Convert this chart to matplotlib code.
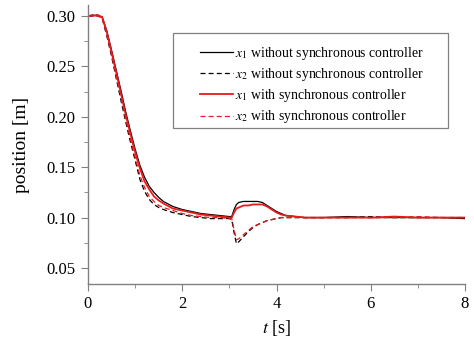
"""Position response of the two axes, with and without the synchronous controller."""

import matplotlib
matplotlib.use("Agg")
import matplotlib.pyplot as plt
from matplotlib.patches import Rectangle
from matplotlib.ticker import MultipleLocator

plt.rcParams["font.family"] = ["Liberation Serif", "DejaVu Serif"]
plt.rcParams["mathtext.fontset"] = "stix"

# ─── data ───────────────────────────────────────────────────────────
t = [0, 0.1, 0.2, 0.3, 0.4, 0.5, 0.6, 0.7, 0.8, 0.9, 1.0, 1.1, 1.2, 1.3,
     1.4, 1.5, 1.6, 1.8, 2.0, 2.2, 2.4, 2.6, 2.8, 3.0, 3.05, 3.1, 3.15,
     3.2, 3.3, 3.4, 3.5, 3.6, 3.7, 3.8, 3.9, 4.0, 4.1, 4.2, 4.4, 4.6,
     5.0, 5.5, 6.0, 6.5, 7.0, 7.5, 8.0]

x1_without = [0.300, 0.301, 0.300, 0.299, 0.285, 0.266, 0.246, 0.226, 0.205,
              0.186, 0.168, 0.152, 0.140, 0.131, 0.125, 0.120, 0.116, 0.111,
              0.108, 0.106, 0.104, 0.103, 0.102, 0.101, 0.101, 0.108, 0.113,
              0.115, 0.116, 0.116, 0.116, 0.116, 0.115, 0.112, 0.109, 0.106,
              0.104, 0.102, 0.101, 0.100, 0.100, 0.101, 0.100, 0.100, 0.100,
              0.100, 0.099]

x2_without = [0.300, 0.300, 0.301, 0.298, 0.280, 0.260, 0.238, 0.216, 0.195,
              0.175, 0.157, 0.138, 0.126, 0.118, 0.113, 0.110, 0.108, 0.105,
              0.103, 0.101, 0.100, 0.099, 0.099, 0.099, 0.098, 0.085, 0.074,
              0.076, 0.081, 0.086, 0.090, 0.093, 0.095, 0.097, 0.098, 0.099,
              0.100, 0.100, 0.100, 0.100, 0.100, 0.100, 0.101, 0.100, 0.100,
              0.100, 0.100]

x1_with = [0.300, 0.300, 0.301, 0.299, 0.284, 0.264, 0.244, 0.223, 0.202,
           0.183, 0.165, 0.149, 0.136, 0.128, 0.121, 0.117, 0.114, 0.109,
           0.107, 0.105, 0.103, 0.102, 0.101, 0.100, 0.100, 0.105, 0.109,
           0.110, 0.112, 0.112, 0.113, 0.113, 0.113, 0.111, 0.108, 0.105,
           0.103, 0.102, 0.101, 0.100, 0.100, 0.100, 0.100, 0.101, 0.100,
           0.100, 0.100]

x2_with = [0.300, 0.301, 0.300, 0.298, 0.281, 0.262, 0.240, 0.219, 0.198,
           0.178, 0.160, 0.142, 0.130, 0.121, 0.116, 0.112, 0.110, 0.107,
           0.104, 0.102, 0.101, 0.100, 0.100, 0.099, 0.099, 0.088, 0.078,
           0.079, 0.083, 0.087, 0.091, 0.093, 0.095, 0.097, 0.098, 0.099,
           0.100, 0.100, 0.100, 0.100, 0.100, 0.100, 0.100, 0.100, 0.101,
           0.100, 0.100]

labels = [
    r"$x_1$ without synchronous controller",
    r"$x_2$ without synchronous controller",
    r"$x_1$ with synchronous controller",
    r"$x_2$ with synchronous controller",
]

W, H = 474, 350
fig = plt.figure(figsize=(W / 100, H / 100), dpi=100)
ax = fig.add_axes([88 / W, 1 - 284 / H, 377 / W, 279 / H])

ax.plot(t, x1_without, color="black", lw=0.9, ls="-", label=labels[0])
ax.plot(t, x2_without, color="black", lw=0.9, ls=(0, (4, 2.5)), label=labels[1])
ax.plot(t, x1_with, color="#e8191c", lw=1.3, ls="-", label=labels[2])
ax.plot(t, x2_with, color="#e8191c", lw=0.9, ls=(0, (4, 2.5)), label=labels[3])

ax.set_xlim(0, 8)
ax.set_ylim(0.0341, 0.3109)
ax.xaxis.set_major_locator(MultipleLocator(2))
ax.xaxis.set_minor_locator(MultipleLocator(1))
ax.yaxis.set_major_locator(MultipleLocator(0.05))
ax.yaxis.set_minor_locator(MultipleLocator(0.025))
ax.yaxis.set_major_formatter(lambda v, _: f"{v:.2f}")

for side in ("top", "right"):
    ax.spines[side].set_visible(False)
for side in ("left", "bottom"):
    ax.spines[side].set_color("#808080")
    ax.spines[side].set_linewidth(1.0)
ax.tick_params(which="both", direction="out", color="#808080", labelsize=12)
ax.tick_params(which="major", length=5, pad=4)
ax.tick_params(which="minor", length=3)

ax.set_ylabel("position [m]", fontsize=14)
ax.yaxis.set_label_coords(-0.155, 0.5)
ax.set_xlabel(r"$t$ [s]", fontsize=13)

# legend frame drawn as a plain box, entries placed inside it
fig.add_artist(Rectangle((173 / W, 1 - 128 / H), 275 / W, 95 / H,
                         transform=fig.transFigure, fill=False,
                         edgecolor="#808080", lw=0.9))
leg = ax.legend(loc="upper left", bbox_to_anchor=(200 / W, 1 - 45 / H),
                bbox_transform=fig.transFigure, borderaxespad=0, borderpad=0,
                fontsize=9.9, handlelength=2.4, handletextpad=0.15,
                frameon=False, labelspacing=0.3)

fig.savefig("out.png", dpi=100)
